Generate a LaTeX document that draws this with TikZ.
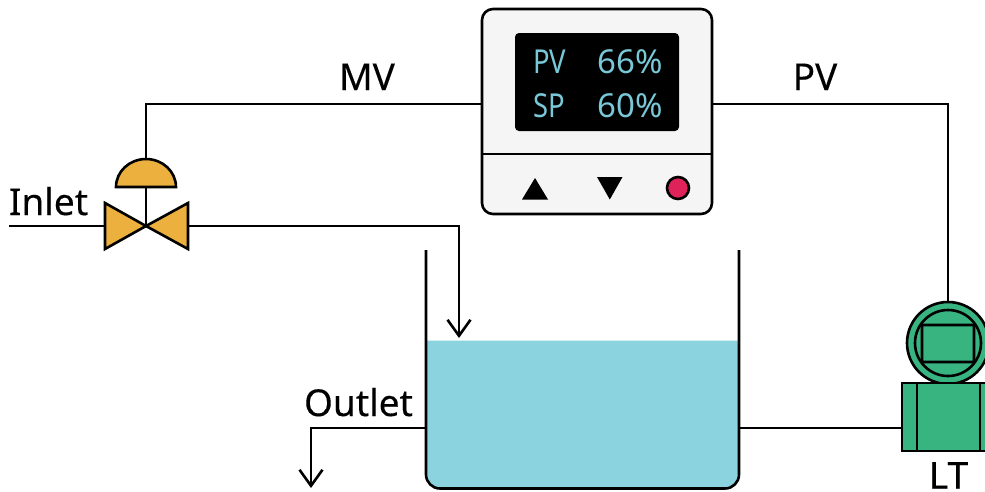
\documentclass[tikz,border=0pt]{standalone}
\usepackage{fontspec}
\setmainfont{Noto Sans}
\newfontfamily\lblfont{Noto Sans}[FakeBold=0.25]
\usetikzlibrary{arrows.meta}
\definecolor{boxfill}{HTML}{F5F5F5}
\definecolor{valvefill}{HTML}{ECB03F}
\definecolor{waterfill}{HTML}{8CD3E0}
\definecolor{greenfill}{HTML}{38B481}
\definecolor{lcdtext}{HTML}{78C8D8}
\definecolor{ledfill}{HTML}{E0225A}
\tikzset{
  ln/.style={line width=2.6pt,draw=black,line join=miter},
  flow/.style={ln,-{Straight Barb[length=16pt,width=23pt,line width=2.6pt]}},
  lbl/.style={font=\lblfont\fontsize{37}{37}\selectfont,inner sep=0pt,anchor=base,text=black},
  lcd/.style={font=\fontsize{33}{33}\selectfont,inner sep=0pt,anchor=base,text=lcdtext},
  blk/.style={fill=black,draw=none},
}
\begin{document}
\begin{tikzpicture}[x=1pt,y=-1pt]
\path[use as bounding box] (0,0) rectangle (985,491);
\clip (0,0) rectangle (985,491);
% water
\path[fill=waterfill,rounded corners=14pt] (426,340.5) [sharp corners] -- (739,340.5) [rounded corners=14pt] -- (739,488.5) -- (426,488.5) [sharp corners] -- cycle;
% named points
\coordinate (inletstart) at (9,226);
\coordinate (valveC) at (146,226);
\coordinate (valveL) at (105,226);
\coordinate (valveR) at (188,226);
\coordinate (domeTop) at (146,159);
\coordinate (domeBot) at (146,187);
\coordinate (mvcorner) at (146,104);
\coordinate (feedcorner) at (459,226);
\coordinate (feedtip) at (459,338);
\coordinate (tankL) at (426,428);
\coordinate (tankR) at (739,428);
\coordinate (outcorner) at (311,428);
\coordinate (outtip) at (311,488);
\coordinate (pvcorner) at (948,104);
% controller
\node[draw=black,line width=2.6pt,fill=boxfill,rounded corners=11pt,minimum width=230pt,minimum height=205pt,inner sep=0pt] (ctrl) at (597,111.5) {};
\draw[ln] (ctrl.west |- 0,154) -- (ctrl.east |- 0,154);
\node[blk,rounded corners=4pt,minimum width=164pt,minimum height=98pt,inner sep=0pt] (screen) at (597,82) {};
\node[lcd,xscale=.83] (pvname) at (549.5,73) {PV};
\node[lcd] (pvval) at (630.5,73) {66\%};
\node[lcd,xscale=.83] (spname) at (549.5,117) {SP};
\node[lcd] (spval) at (630.5,117) {60\%};
\path[blk] (522,199.5) -- (535,178) -- (548,199.5) -- cycle;
\path[blk] (597,177) -- (622.5,177) -- (609.8,199.5) -- cycle;
\node[circle,draw=black,line width=2.6pt,fill=ledfill,minimum size=22pt,inner sep=0pt] (led) at (678,188) {};
% connectors
\draw[ln] (ctrl.west |- mvcorner) -- (mvcorner) -- (domeTop);
\draw[ln] (ctrl.east |- pvcorner) -- (pvcorner) -- (948,302);
\draw[ln] (inletstart) -- (valveL);
\draw[flow] (valveR) -- (feedcorner) -- (feedtip);
\draw[flow] (tankL) -- (outcorner) -- (outtip);
\draw[ln] (tankR) -- (902,428);
% tank
\draw[ln,rounded corners=14pt] (426,250) -- (426,488.5) -- (739,488.5) -- (739,250);
% valve
\draw[ln] (domeBot) -- (valveC);
\draw[ln,fill=valvefill] (116,187) arc[start angle=180,end angle=360,x radius=30,y radius=28] -- cycle;
\draw[ln,fill=valvefill] (105,203) -- (valveC) -- (105,249) -- cycle;
\draw[ln,fill=valvefill] (188,203) -- (valveC) -- (188,249) -- cycle;
% transmitter
\node[circle,draw=black,line width=2.6pt,fill=greenfill,minimum size=82pt,inner sep=0pt] (txouter) at (948,343) {};
\node[circle,draw=black,line width=2.6pt,fill=greenfill,minimum size=66pt,inner sep=0pt] (txinner) at (948,343) {};
\node[draw=black,line width=2.6pt,rounded corners=1pt,minimum width=52pt,minimum height=37pt,inner sep=0pt] (txrect) at (948,343.5) {};
\node[draw=black,line width=2.6pt,fill=greenfill,minimum width=92pt,minimum height=68pt,inner sep=0pt] (txbody) at (948,417) {};
\draw[ln] (917,383) -- (917,451);
\draw[ln] (980,383) -- (980,451);
% labels
\node[lbl] (mv) at (367,90) {MV};
\node[lbl] (pv) at (815,90) {PV};
\node[lbl] (inlet) at (48.5,215) {Inlet};
\node[lbl] (outlet) at (358.5,416) {Outlet};
\node[lbl] (lt) at (948.5,488.5) {LT};
\end{tikzpicture}
\end{document}
